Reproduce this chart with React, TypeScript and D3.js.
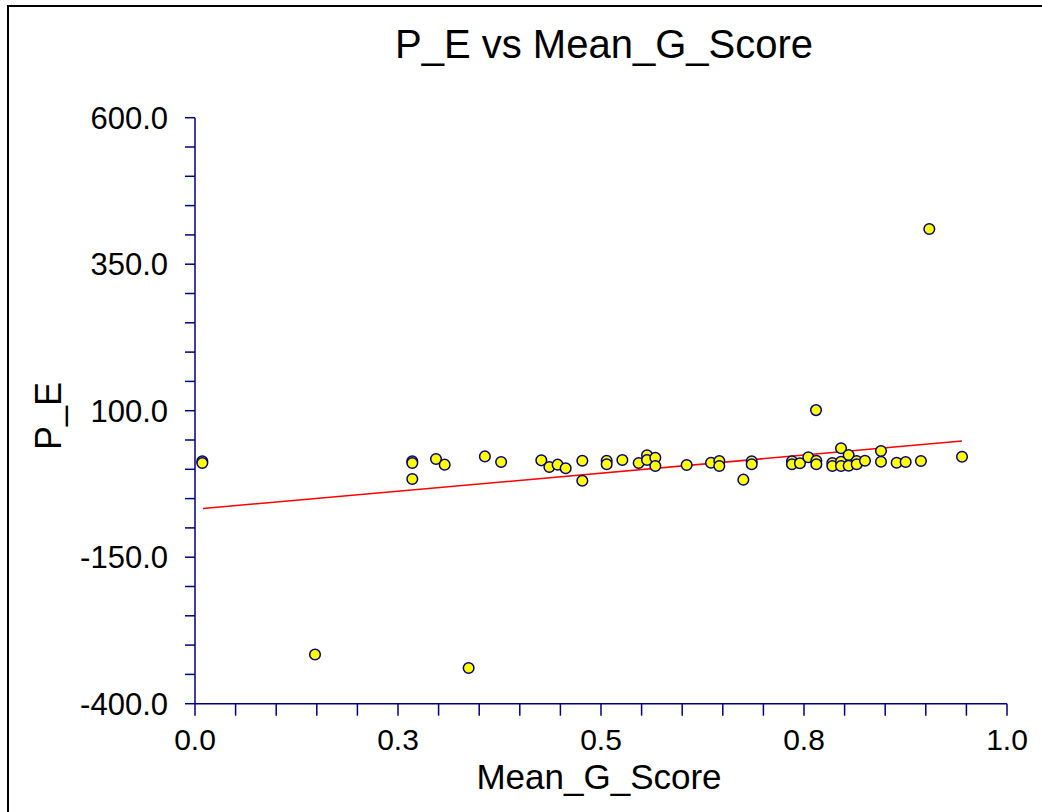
import React from "react";
import * as d3 from "d3";

const meanGScore = [
  0.009, 0.009, 0.2676, 0.2676, 0.2676, 0.2968, 0.3075, 0.357, 0.377, 0.4265,
  0.4364, 0.4466, 0.4565, 0.477, 0.477, 0.507, 0.507, 0.5263, 0.5464, 0.5567,
  0.5567, 0.5669, 0.5669, 0.6055, 0.6355, 0.6457, 0.6457, 0.6753, 0.6856, 0.6856,
  0.7352, 0.7352, 0.745, 0.7553, 0.7652, 0.7652, 0.7849, 0.7849, 0.7956, 0.7956,
  0.7956, 0.805, 0.805, 0.8149, 0.8149, 0.8251, 0.8448, 0.8448, 0.8641, 0.8752,
  0.894, 0.9446, 0.7648, 0.9043, 0.1478, 0.337,
];
const pE = [
  13.6, 10.7, 13.6, 10.7, -16.6, 17.6, 7.9, 22, 12.5, 15.3,
  3.9, 7.9, 1.7, 14.7, -19.5, 14.7, 8.5, 15.9, 10.7, 23.9,
  15.9, 19.8, 5.6, 7.3, 11.3, 14.2, 5.6, -17.7, 13.6, 8.5,
  13.6, 8.5, 10.2, 20.5, 14.7, 8.5, 10.7, 5.6, 35.8, 13,
  5.6, 24.4, 6.1, 14.2, 8.5, 14.7, 31.2, 13, 11.3, 12.5,
  14.2, 21.5, 101, 410, -316, -339,
];
const trendX = [0.0099, 0.9446];
const trendY = [-67, 48.3];
const xTickValues = [0, 0.25, 0.5, 0.75, 1.0];
const yTickValues = [-400, -150, 100, 350, 600];

const W = 1042;
const H = 812;
const left = 195;
const right = 1007;
const top = 117.7;
const bottom = 703.7;
const axisColor = "#000080";
const font = "Arial, 'Liberation Sans', sans-serif";
const fmt = (v: number) => d3.format(".1f")(v).replace("\u2212", "-");

export default function App() {
  const x = d3.scaleLinear().domain([0, 1]).range([left, right]);
  const y = d3.scaleLinear().domain([-400, 600]).range([bottom, top]);
  const xMinor = d3.range(0, 21).map((i) => i * 0.05);
  const yMinor = d3.range(0, 21).map((i) => -400 + i * 50);
  const line = d3
    .line<number>()
    .x((d) => x(d))
    .y((_, i) => y(trendY[i]));
  const pts = meanGScore.map((v, i) => ({ x: v, y: pE[i] }));

  return (
    <div style={{ position: "absolute", left: 0, top: 0 }}>
      <svg width={W} height={H} style={{ display: "block", background: "#fff" }}>
        <rect x={8} y={6} width={W + 20} height={H + 20} fill="#fff" stroke="#000" strokeWidth={2} />
        <text x={604} y={58} textAnchor="middle" fontFamily={font} fontSize={40} fill="#000">
          P_E vs Mean_G_Score
        </text>
        {/* y axis */}
        <line x1={left} x2={left} y1={top} y2={bottom} stroke={axisColor} strokeWidth={1.5} />
        {yMinor.map((v) => (
          <line key={"ym" + v} x1={left - 10} x2={left} y1={y(v)} y2={y(v)} stroke={axisColor} strokeWidth={1.5} />
        ))}
        {yTickValues.map((v) => (
          <text key={"yt" + v} x={168} y={y(v)} dy="0.35em" textAnchor="end" fontFamily={font} fontSize={31} fill="#000">
            {fmt(v)}
          </text>
        ))}
        {/* x axis */}
        <line x1={left} x2={right} y1={bottom} y2={bottom} stroke={axisColor} strokeWidth={1.5} />
        {xMinor.map((v) => (
          <line key={"xm" + v} x1={x(v)} x2={x(v)} y1={bottom} y2={bottom + 12} stroke={axisColor} strokeWidth={1.5} />
        ))}
        {xTickValues.map((v) => (
          <text key={"xt" + v} x={x(v)} y={750} textAnchor="middle" fontFamily={font} fontSize={30} fill="#000">
            {fmt(v)}
          </text>
        ))}
        <text x={599} y={789} textAnchor="middle" fontFamily={font} fontSize={35} fill="#000">
          Mean_G_Score
        </text>
        <text
          transform={`translate(61,${416}) rotate(-90)`}
          textAnchor="middle"
          fontFamily={font}
          fontSize={36}
          fill="#000"
        >
          P_E
        </text>
        <path d={line(trendX) || ""} fill="none" stroke="#ff0000" strokeWidth={1.5} />
        {pts.map((p, i) => (
          <circle key={i} cx={x(p.x)} cy={y(p.y)} r={5.3} fill="#ffff00" stroke={axisColor} strokeWidth={1.5} />
        ))}
      </svg>
    </div>
  );
}
